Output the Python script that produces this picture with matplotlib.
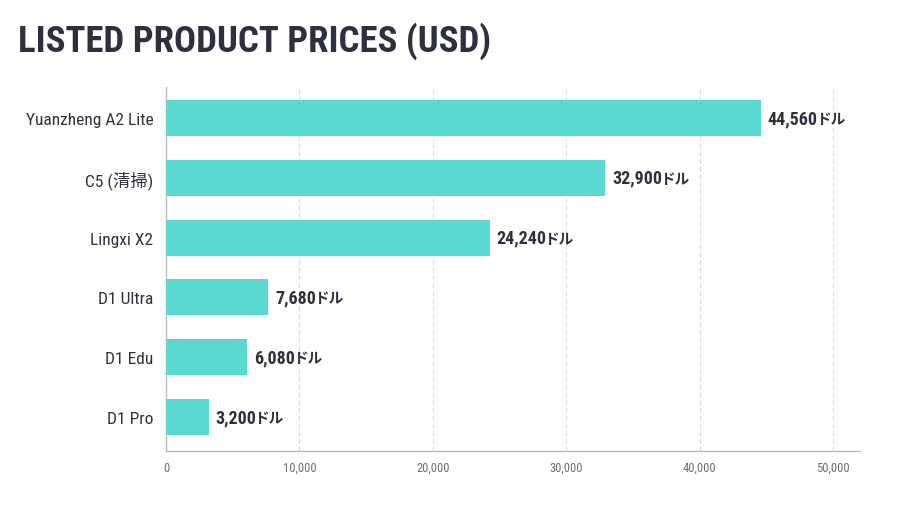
import matplotlib
matplotlib.use("Agg")
import matplotlib.pyplot as plt
from matplotlib import font_manager as fm

categories = ["Yuanzheng A2 Lite", "C5 (清掃)", "Lingxi X2", "D1 Ultra", "D1 Edu", "D1 Pro"]
prices = [44560, 32900, 24240, 7680, 6080, 3200]
xticks = [0, 10000, 20000, 30000, 40000, 50000]
xtick_labels = ["0", "10,000", "20,000", "30,000", "40,000", "50,000"]
title = "LISTED PRODUCT PRICES (USD)"
unit = "ドル"

installed = {f.name for f in fm.fontManager.ttflist}
cond = None
for name in ["Roboto Condensed", "Liberation Sans Narrow", "DejaVu Sans Condensed", "Roboto", "DejaVu Sans"]:
    if name in installed:
        cond = name
        break
fams = [cond, "Noto Sans CJK JP", "DejaVu Sans"]
plt.rcParams["font.family"] = fams

dark = "#2e3040"
fig = plt.figure(figsize=(9, 5.06), dpi=100)
ax = fig.add_axes([0.1844, 0.1067, 0.7712, 0.7193])

y = list(range(len(categories)))
ax.barh(y, prices, height=0.6, color="#5bd8cf", zorder=3)
ax.set_ylim(5.57, -0.52)
ax.set_xlim(0, 52000)
ax.set_xticks(xticks)
ax.set_xticklabels(xtick_labels, fontsize=9, color="#6b6e78")
ax.set_yticks(y)
ax.set_yticklabels(categories, fontsize=12.5, color=dark)
ax.tick_params(axis="both", length=0)
ax.tick_params(axis="y", pad=9)
ax.tick_params(axis="x", pad=7)
for t in xticks[1:]:
    ax.axvline(t, color="#dcdce0", lw=0.8, ls=(0, (4, 3)), zorder=1)
for s in ["top", "right"]:
    ax.spines[s].set_visible(False)
for s in ["left", "bottom"]:
    ax.spines[s].set_color("#b8bac2")
    ax.spines[s].set_linewidth(1.0)

fig.canvas.draw()
inv = ax.transData.inverted()
for yi, v in zip(y, prices):
    txt = ax.annotate(f"{v:,}", xy=(v, yi), xytext=(5, 0), textcoords="offset points",
                      va="center", ha="left", fontsize=13, fontweight="bold", color=dark)
    fig.canvas.draw()
    bb = txt.get_window_extent()
    xd, _ = inv.transform((bb.x1 - 2, 0))
    ax.annotate(unit, xy=(xd, yi), xytext=(0, 0), textcoords="offset points",
                va="center", ha="left", fontsize=10.5, fontweight="bold", color=dark,
                family=["Noto Sans CJK JP", "DejaVu Sans"])

fig.text(0.02, 0.918, title, fontsize=26.5, fontweight="bold", color=dark, va="center", ha="left")

fig.savefig("out.png", dpi=100, facecolor="white")
